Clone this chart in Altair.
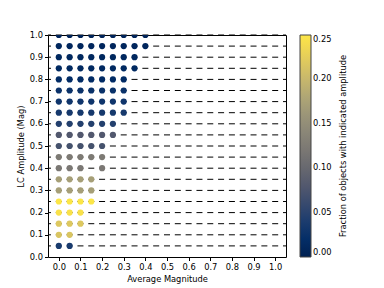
import altair as alt
import pandas as pd

amplitudes = [0.05, 0.10, 0.15, 0.20, 0.25, 0.30, 0.35, 0.40, 0.45, 0.50,
              0.55, 0.60, 0.65, 0.70, 0.75, 0.80, 0.85, 0.90, 0.95, 1.00]
fractions = [0.038, 0.215, 0.218, 0.245, 0.250, 0.172, 0.172, 0.122, 0.124, 0.070,
             0.080, 0.045, 0.036, 0.030, 0.025, 0.016, 0.012, 0.010, 0.008, 0.005]
mags_per_row = [
    [0.0, 0.05],
    [0.0, 0.05],
    [0.0, 0.05, 0.10],
    [0.0, 0.05, 0.10],
    [0.0, 0.05, 0.10, 0.15],
    [0.0, 0.05, 0.10, 0.15],
    [0.0, 0.05, 0.10, 0.15],
    [0.0, 0.05, 0.10, 0.20],
    [0.0, 0.05, 0.10, 0.15, 0.20],
    [0.0, 0.05, 0.10, 0.15, 0.20],
    [0.0, 0.05, 0.10, 0.15, 0.20, 0.25],
    [0.0, 0.05, 0.10, 0.15, 0.20, 0.25],
    [0.0, 0.05, 0.10, 0.15, 0.20, 0.25, 0.30],
    [0.0, 0.05, 0.10, 0.15, 0.20, 0.25, 0.30],
    [0.0, 0.05, 0.10, 0.15, 0.20, 0.25, 0.30],
    [0.0, 0.05, 0.10, 0.15, 0.20, 0.25, 0.30],
    [0.0, 0.05, 0.10, 0.15, 0.20, 0.25, 0.30, 0.35],
    [0.0, 0.05, 0.10, 0.15, 0.20, 0.25, 0.30, 0.35],
    [0.0, 0.05, 0.10, 0.15, 0.20, 0.25, 0.30, 0.35, 0.40],
    [0.0, 0.05, 0.10, 0.15, 0.20, 0.25, 0.30, 0.35, 0.40],
]
x_limits = [-0.05, 1.05]
x_ticks = [0.0, 0.1, 0.2, 0.3, 0.4, 0.5, 0.6, 0.7, 0.8, 0.9, 1.0]
y_ticks = [0.0, 0.1, 0.2, 0.3, 0.4, 0.5, 0.6, 0.7, 0.8, 0.9, 1.0]
cbar_ticks = [0.0, 0.05, 0.10, 0.15, 0.20, 0.25]
cbar_title = ["Fraction of objects with indicated amplitude"]

points = pd.DataFrame(
    [{"mag": m, "amp": a, "frac": f}
     for a, f, ms in zip(amplitudes, fractions, mags_per_row) for m in ms]
)
rules = pd.DataFrame({"amp": amplitudes, "x0": x_limits[0], "x1": x_limits[1]})
title_df = pd.DataFrame({"t": cbar_title})

W, H = 238, 222
period = W / 22.0
FONT = "DejaVu Sans"
FS = 8.3

xscale = alt.Scale(domain=x_limits, nice=False, zero=False)
yscale = alt.Scale(domain=[0, 1], nice=False, zero=False)
xaxis = alt.Axis(values=x_ticks, format=".1f", title="Average Magnitude",
                 labelOverlap=False, labelFlush=False)
yaxis = alt.Axis(values=y_ticks, format=".1f", title="LC Amplitude (Mag)",
                 labelOverlap=False, labelFlush=False)

dash = alt.Chart(rules).mark_rule(
    color="black", strokeWidth=1, strokeDash=[6, period - 6], strokeDashOffset=3
).encode(
    x=alt.X("x0:Q", scale=xscale, axis=xaxis),
    x2="x1:Q",
    y=alt.Y("amp:Q", scale=yscale, axis=yaxis),
)

dots = alt.Chart(points).mark_circle(size=38, opacity=1, clip=True).encode(
    x=alt.X("mag:Q", scale=xscale, axis=xaxis),
    y=alt.Y("amp:Q", scale=yscale, axis=yaxis),
    color=alt.Color(
        "frac:Q",
        scale=alt.Scale(scheme="cividis", domain=[0, 0.25]),
        legend=alt.Legend(
            title=None,
            values=cbar_ticks, format=".2f",
            gradientLength=H, gradientThickness=11,
            gradientStrokeColor="#444", gradientStrokeWidth=1,
            labelBaseline="middle", labelOverlap=False,
            orient="none", legendX=W + 14, legendY=0,
        ),
    ),
)

ctitle = alt.Chart(title_df).mark_text(
    angle=270, align="center", baseline="middle", font=FONT, fontSize=FS, color="black"
).encode(
    x=alt.value(W + 58),
    y=alt.value(H / 2),
    text="t:N",
)

chart = alt.layer(dash, dots, ctitle).properties(
    width=W, height=H,
    padding={"left": 8, "top": 22, "right": 5, "bottom": 5},
).configure_view(
    stroke="black", strokeWidth=1
).configure_axis(
    domain=False, grid=False, tickColor="black", tickSize=3.5,
    labelFont=FONT, labelFontSize=FS, labelColor="black",
    titleFont=FONT, titleFontSize=FS, titleFontWeight="normal",
    titleColor="black", labelPadding=2,
).configure_legend(
    labelFont=FONT, labelFontSize=FS, labelColor="black",
)

chart.save("out.html", embed_options={"renderer": "svg", "actions": False})
